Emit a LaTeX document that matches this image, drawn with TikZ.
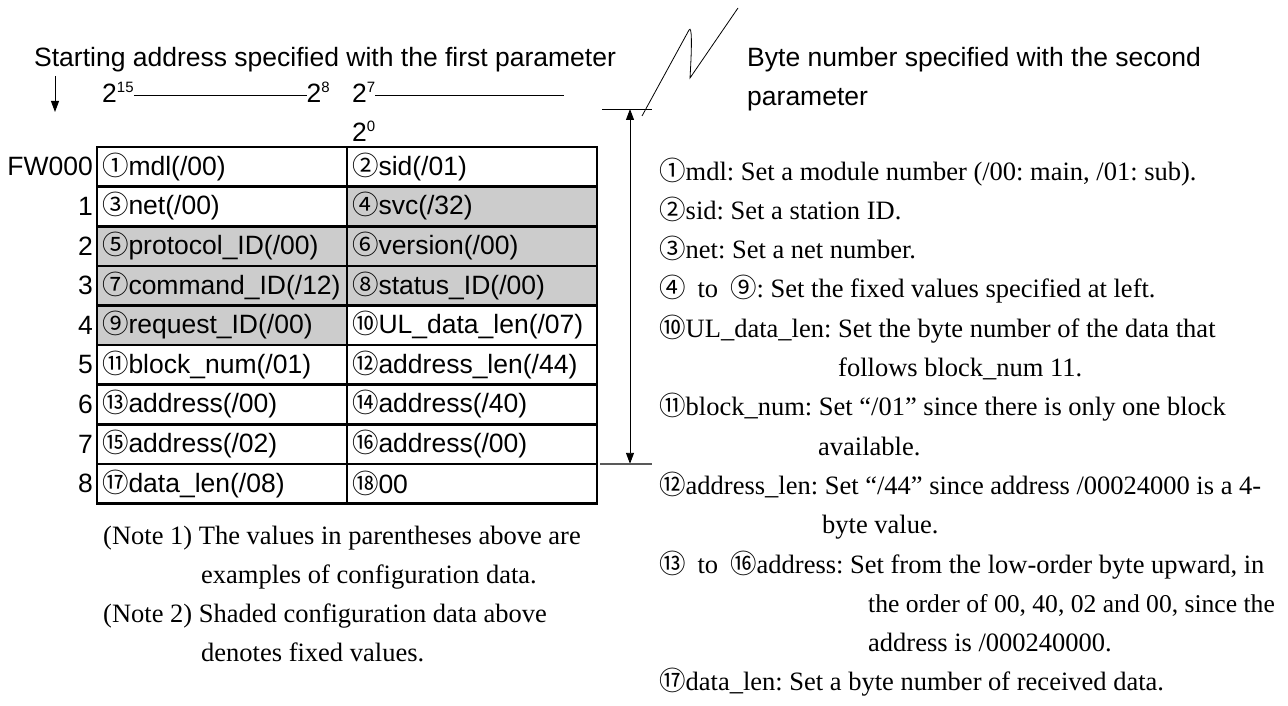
\documentclass[tikz,border=0pt]{standalone}
\usepackage{fontspec}
\setmainfont{Liberation Serif}
\setsansfont{Liberation Sans}
\newfontfamily\cjkfont{Noto Sans CJK JP}
\usetikzlibrary{arrows.meta, positioning}
\frenchspacing
\newcommand{\cn}[1]{{\cjkfont #1}}
\newcommand{\sfbig}{\fontsize{26.5}{32}\selectfont\sffamily}
\newcommand{\rmbig}{\fontsize{26.5}{32}\selectfont\rmfamily}
\newcommand{\cellbox}[1]{\makebox[240pt][l]{#1}}
\newcommand{\pw}[1]{2\raisebox{10pt}{\fontsize{15}{15}\selectfont #1}}
\newcommand{\gap}{\hspace{0.45em}}

\begin{document}
\begin{tikzpicture}[x=1pt, y=-1pt,
    cell/.style={draw, line width=2.6pt, outer sep=0pt, anchor=north west, minimum width=250pt, minimum height=39.6pt, inner xsep=4pt, inner ysep=0pt, font=\sfbig},
    fixed/.style={cell, fill=black!20},
    rowlab/.style={anchor=east, inner sep=0pt, font=\sfbig},
    head/.style={anchor=base west, inner sep=0pt, font=\sfbig},
    note/.style={anchor=base west, inner sep=0pt, font=\rmbig},
    arrow/.style={-{Triangle[length=11pt, width=8pt]}, line width=0.9pt},
    measure/.style={{Triangle[length=11pt, width=8pt]}-{Triangle[length=11pt, width=8pt]}, line width=0.9pt}
]
\useasboundingbox (0,0) rectangle (1288,706);

% Headings
\node[head] (start) at (34,67) {Starting address specified with the first parameter};
\node[head] (byte) at (747,67) {Byte number specified with the second};
\node[head] (byte2) at (747,106) {parameter};

\coordinate (dtop) at (55,76);
\coordinate (dbot) at (55,112);
\draw[arrow] (dtop) -- (dbot);

% Bit positions
\node[head] (b15) at (102,103) {\pw{15}};
\node[head, anchor=base east] (b8) at (330,103) {\pw{8}};
\node[head] (b7) at (352,103) {\pw{7}};
\node[head] (b0) at (352,142) {\pw{0}};
\coordinate (b7end) at (564,95);
\draw[line width=0.9pt] (b15.east |- b7end) -- (b8.west |- b7end);
\draw[line width=0.9pt] (b7.east |- b7end) -- (b7end);

% Table
\node[cell] (c0l) at (97,147) {\cellbox{\cn{①}mdl(/00)}};
\node[cell] (c0r) at (347,147) {\cellbox{\cn{②}sid(/01)}};
\node[cell] (c1l) at (97,186.6) {\cellbox{\cn{③}net(/00)}};
\node[fixed] (c1r) at (347,186.6) {\cellbox{\cn{④}svc(/32)}};
\node[fixed] (c2l) at (97,226.2) {\cellbox{\cn{⑤}protocol\_ID(/00)}};
\node[fixed] (c2r) at (347,226.2) {\cellbox{\cn{⑥}version(/00)}};
\node[fixed] (c3l) at (97,265.8) {\cellbox{\cn{⑦}command\_ID(/12)}};
\node[fixed] (c3r) at (347,265.8) {\cellbox{\cn{⑧}status\_ID(/00)}};
\node[fixed] (c4l) at (97,305.4) {\cellbox{\cn{⑨}request\_ID(/00)}};
\node[cell] (c4r) at (347,305.4) {\cellbox{\cn{⑩}UL\_data\_len(/07)}};
\node[cell] (c5l) at (97,345) {\cellbox{\cn{⑪}block\_num(/01)}};
\node[cell] (c5r) at (347,345) {\cellbox{\cn{⑫}address\_len(/44)}};
\node[cell] (c6l) at (97,384.6) {\cellbox{\cn{⑬}address(/00)}};
\node[cell] (c6r) at (347,384.6) {\cellbox{\cn{⑭}address(/40)}};
\node[cell] (c7l) at (97,424.2) {\cellbox{\cn{⑮}address(/02)}};
\node[cell] (c7r) at (347,424.2) {\cellbox{\cn{⑯}address(/00)}};
\node[cell] (c8l) at (97,463.8) {\cellbox{\cn{⑰}data\_len(/08)}};
\node[cell] (c8r) at (347,463.8) {\cellbox{\cn{⑱}00}};

\node[rowlab, left=4pt of c0l] (r0) {FW000};
\foreach \i in {1,...,8}
  \node[rowlab, left=4pt of c\i l] (r\i) {\i};

% Byte count
\coordinate (mtop) at (630,109);
\coordinate (mbot) at (630,463.8);
\draw[measure] (mtop) -- (mbot);
\draw[line width=0.9pt] ([xshift=-28pt]mtop) -- ([xshift=22pt]mtop);
\draw[line width=2pt, black!65] ([xshift=-30pt]mbot) -- ([xshift=22pt]mbot);
\draw[line width=0.8pt] (642,116) -- (689,30) .. controls (692,25) and (692,45) .. (690,78) -- (738,8);

% Notes
\node[note] (n1) at (103,544) {(Note 1) The values in parentheses above are};
\node[note] (n1b) at (201,583) {examples of configuration data.};
\node[note] (n2) at (103,622) {(Note 2) Shaded configuration data above};
\node[note] (n2b) at (201,661) {denotes fixed values.};

% Explanations
\node[note] (e1) at (659,180) {\cn{①}mdl: Set a module number (/00: main, /01: sub).};
\node[note] (e2) at (659,219.3) {\cn{②}sid: Set a station ID.};
\node[note] (e3) at (659,258.6) {\cn{③}net: Set a net number.};
\node[note] (e4) at (659,297.9) {\cn{④}\gap to\gap\cn{⑨}: Set the fixed values specified at left.};
\node[note] (e10) at (659,337.2) {\cn{⑩}UL\_data\_len: Set the byte number of the data that};
\node[note] (e10b) at (838,376.5) {follows block\_num 11.};
\node[note] (e11) at (659,415.8) {\cn{⑪}block\_num: Set “/01” since there is only one block};
\node[note] (e11b) at (818,455.1) {available.};
\node[note] (e12) at (659,494.4) {\cn{⑫}address\_len: Set “/44” since address /00024000 is a 4-};
\node[note] (e12b) at (822,533.7) {byte value.};
\node[note] (e13) at (659,573) {\cn{⑬}\gap to\gap\cn{⑯}address: Set from the low-order byte upward, in};
\node[note, font=\fontsize{25.6}{32}\selectfont] (e13b) at (868,612.3) {the order of 00, 40, 02 and 00, since the};
\node[note] (e13c) at (868,651.6) {address is /000240000.};
\node[note] (e17) at (659,690.9) {\cn{⑰}data\_len: Set a byte number of received data.};

\end{tikzpicture}
\end{document}
